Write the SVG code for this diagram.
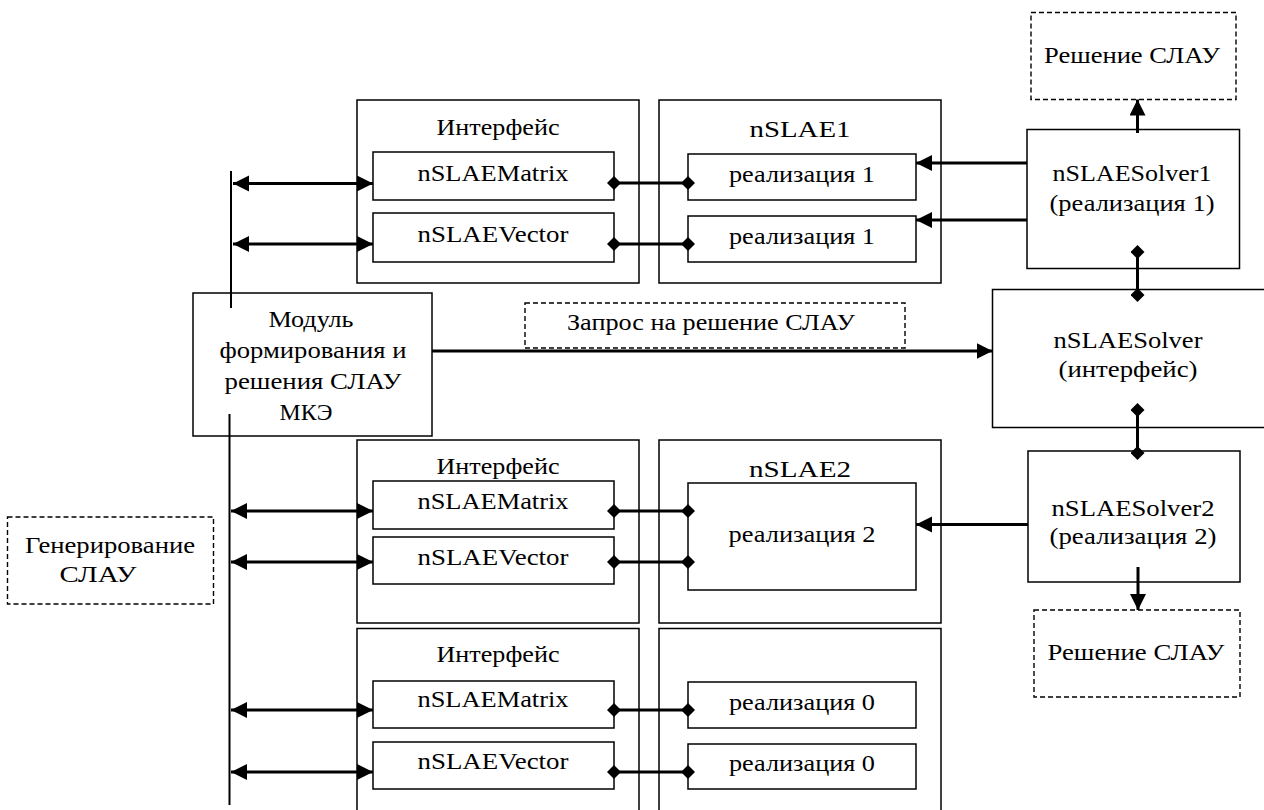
<svg xmlns="http://www.w3.org/2000/svg" width="1264" height="810" viewBox="0 0 1264 810">
<defs>
<style>
.box{fill:#fff;stroke:#000;stroke-width:1.5}
.dash{fill:#fff;stroke:#000;stroke-width:1.4;stroke-dasharray:5 3}
.t{font-family:'Liberation Serif','Times New Roman',serif;font-size:24px;fill:#000;text-anchor:middle}
.c{stroke:#000;stroke-width:3;fill:none}
.bus{stroke:#000;stroke-width:2;fill:none}
</style>
<marker id="arr" markerUnits="userSpaceOnUse" markerWidth="17" markerHeight="17" refX="16" refY="8" orient="auto-start-reverse" viewBox="0 0 17 17">
<path d="M0,0 L16,8 L0,16 z" fill="#000"/>
</marker>
<marker id="dia" markerUnits="userSpaceOnUse" markerWidth="14" markerHeight="14" refX="7" refY="7" orient="auto" viewBox="0 0 14 14">
<path d="M0,7 L7,0 L14,7 L7,14 z" fill="#000"/>
</marker>
</defs>
<rect width="1264" height="810" fill="#fff"/>
<g id="iface1">
<rect class="box" x="357" y="100" width="282" height="183"/>
<text class="t" x="498" y="135" textLength="123" lengthAdjust="spacingAndGlyphs">Интерфейс</text>
</g>
<g id="matrix1">
<rect class="box" x="373" y="152" width="241" height="48"/>
<text class="t" x="493" y="181" textLength="151" lengthAdjust="spacingAndGlyphs">nSLAEMatrix</text>
</g>
<g id="vector1">
<rect class="box" x="373" y="213" width="241" height="49"/>
<text class="t" x="493" y="242" textLength="151" lengthAdjust="spacingAndGlyphs">nSLAEVector</text>
</g>
<g id="nslae1">
<rect class="box" x="659" y="100" width="282" height="183"/>
<text class="t" x="800" y="137" textLength="101" lengthAdjust="spacingAndGlyphs">nSLAE1</text>
</g>
<g id="impl1a">
<rect class="box" x="688" y="154" width="228" height="46"/>
<text class="t" x="802" y="182" textLength="146" lengthAdjust="spacingAndGlyphs">реализация 1</text>
</g>
<g id="impl1b">
<rect class="box" x="688" y="216" width="228" height="46"/>
<text class="t" x="802" y="244" textLength="146" lengthAdjust="spacingAndGlyphs">реализация 1</text>
</g>
<g id="solver1">
<rect class="box" x="1027" y="129.5" width="212.5" height="139"/>
<text class="t" x="1132" y="181" textLength="159" lengthAdjust="spacingAndGlyphs">nSLAESolver1</text>
<text class="t" x="1132" y="211" textLength="165" lengthAdjust="spacingAndGlyphs">(реализация 1)</text>
</g>
<g id="result1">
<rect class="dash" x="1031" y="12.5" width="205" height="87"/>
<text class="t" x="1132" y="63" textLength="176" lengthAdjust="spacingAndGlyphs">Решение СЛАУ</text>
</g>
<g id="module">
<rect class="box" x="193" y="293" width="239" height="143"/>
<text class="t" x="311" y="327" textLength="85" lengthAdjust="spacingAndGlyphs">Модуль</text>
<text class="t" x="313" y="358" textLength="187" lengthAdjust="spacingAndGlyphs">формирования и</text>
<text class="t" x="313" y="389" textLength="177" lengthAdjust="spacingAndGlyphs">решения СЛАУ</text>
<text class="t" x="306" y="420" textLength="53" lengthAdjust="spacingAndGlyphs">МКЭ</text>
</g>
<g id="request">
<rect class="dash" x="525" y="303" width="380" height="45"/>
<text class="t" x="711" y="330" textLength="288" lengthAdjust="spacingAndGlyphs">Запрос на решение СЛАУ</text>
</g>
<g id="solver">
<rect class="box" x="992.5" y="289.5" width="275" height="138"/>
<text class="t" x="1128" y="348" textLength="149" lengthAdjust="spacingAndGlyphs">nSLAESolver</text>
<text class="t" x="1128" y="377" textLength="139" lengthAdjust="spacingAndGlyphs">(интерфейс)</text>
</g>
<g id="iface2">
<rect class="box" x="357" y="440" width="282" height="183"/>
<text class="t" x="498" y="474" textLength="123" lengthAdjust="spacingAndGlyphs">Интерфейс</text>
</g>
<g id="matrix2">
<rect class="box" x="373" y="481" width="241" height="48"/>
<text class="t" x="493" y="509" textLength="151" lengthAdjust="spacingAndGlyphs">nSLAEMatrix</text>
</g>
<g id="vector2">
<rect class="box" x="373" y="537" width="241" height="47"/>
<text class="t" x="493" y="565" textLength="151" lengthAdjust="spacingAndGlyphs">nSLAEVector</text>
</g>
<g id="nslae2">
<rect class="box" x="659" y="440" width="282" height="183"/>
<text class="t" x="800" y="477" textLength="102" lengthAdjust="spacingAndGlyphs">nSLAE2</text>
</g>
<g id="impl2">
<rect class="box" x="688" y="483" width="228" height="107"/>
<text class="t" x="802" y="542" textLength="147" lengthAdjust="spacingAndGlyphs">реализация 2</text>
</g>
<g id="solver2">
<rect class="box" x="1028" y="451" width="212" height="131"/>
<text class="t" x="1133" y="516" textLength="163" lengthAdjust="spacingAndGlyphs">nSLAESolver2</text>
<text class="t" x="1133" y="544" textLength="167" lengthAdjust="spacingAndGlyphs">(реализация 2)</text>
</g>
<g id="result2">
<rect class="dash" x="1034" y="610" width="206" height="87"/>
<text class="t" x="1136" y="660" textLength="177" lengthAdjust="spacingAndGlyphs">Решение СЛАУ</text>
</g>
<g id="generate">
<rect class="dash" x="7.5" y="517" width="206" height="87"/>
<text class="t" x="110" y="553" textLength="170" lengthAdjust="spacingAndGlyphs">Генерирование</text>
<text class="t" x="98" y="582" textLength="77" lengthAdjust="spacingAndGlyphs">СЛАУ</text>
</g>
<g id="iface0">
<rect class="box" x="357" y="628.5" width="282" height="190"/>
<text class="t" x="498" y="662" textLength="123" lengthAdjust="spacingAndGlyphs">Интерфейс</text>
</g>
<g id="matrix0">
<rect class="box" x="373" y="681" width="241" height="47"/>
<text class="t" x="493" y="707" textLength="151" lengthAdjust="spacingAndGlyphs">nSLAEMatrix</text>
</g>
<g id="vector0">
<rect class="box" x="373" y="742" width="241" height="47"/>
<text class="t" x="493" y="769" textLength="151" lengthAdjust="spacingAndGlyphs">nSLAEVector</text>
</g>
<g id="nslae0">
<rect class="box" x="659" y="628.5" width="282" height="190"/>
</g>
<g id="impl0a">
<rect class="box" x="688" y="682" width="228" height="46"/>
<text class="t" x="802" y="710" textLength="146" lengthAdjust="spacingAndGlyphs">реализация 0</text>
</g>
<g id="impl0b">
<rect class="box" x="688" y="744" width="228" height="45"/>
<text class="t" x="802" y="771" textLength="146" lengthAdjust="spacingAndGlyphs">реализация 0</text>
</g>
<g id="connectors">
<line class="bus" x1="231" y1="171" x2="231" y2="308"/>
<line class="bus" x1="229.5" y1="414" x2="229.5" y2="805"/>
<line class="c" x1="233" y1="183.5" x2="373" y2="183.5" marker-start="url(#arr)" marker-end="url(#arr)"/>
<line class="c" x1="233" y1="244" x2="373" y2="244" marker-start="url(#arr)" marker-end="url(#arr)"/>
<line class="c" x1="231" y1="511" x2="373" y2="511" marker-start="url(#arr)" marker-end="url(#arr)"/>
<line class="c" x1="231" y1="562" x2="373" y2="562" marker-start="url(#arr)" marker-end="url(#arr)"/>
<line class="c" x1="231" y1="710" x2="373" y2="710" marker-start="url(#arr)" marker-end="url(#arr)"/>
<line class="c" x1="231" y1="772" x2="373" y2="772" marker-start="url(#arr)" marker-end="url(#arr)"/>
<line class="c" x1="614" y1="183" x2="688" y2="183" marker-start="url(#dia)" marker-end="url(#dia)"/>
<line class="c" x1="614" y1="244" x2="688" y2="244" marker-start="url(#dia)" marker-end="url(#dia)"/>
<line class="c" x1="614" y1="511" x2="688" y2="511" marker-start="url(#dia)" marker-end="url(#dia)"/>
<line class="c" x1="614" y1="562" x2="688" y2="562" marker-start="url(#dia)" marker-end="url(#dia)"/>
<line class="c" x1="614" y1="710" x2="688" y2="710" marker-start="url(#dia)" marker-end="url(#dia)"/>
<line class="c" x1="614" y1="772" x2="688" y2="772" marker-start="url(#dia)" marker-end="url(#dia)"/>
<line class="c" x1="1027" y1="163" x2="916" y2="163" marker-end="url(#arr)"/>
<line class="c" x1="1027" y1="220" x2="916" y2="220" marker-end="url(#arr)"/>
<line class="c" x1="1028" y1="524.5" x2="916" y2="524.5" marker-end="url(#arr)"/>
<line class="c" x1="1137.5" y1="133" x2="1137.5" y2="99.5" marker-end="url(#arr)"/>
<line class="c" x1="1138" y1="567" x2="1138" y2="610" marker-end="url(#arr)"/>
<line class="c" x1="432" y1="351" x2="992.5" y2="351" marker-end="url(#arr)"/>
<line class="c" x1="1137.5" y1="252" x2="1137.5" y2="295" marker-start="url(#dia)" marker-end="url(#dia)"/>
<line class="c" x1="1137.5" y1="410" x2="1137.5" y2="453" marker-start="url(#dia)" marker-end="url(#dia)"/>
</g>
</svg>
